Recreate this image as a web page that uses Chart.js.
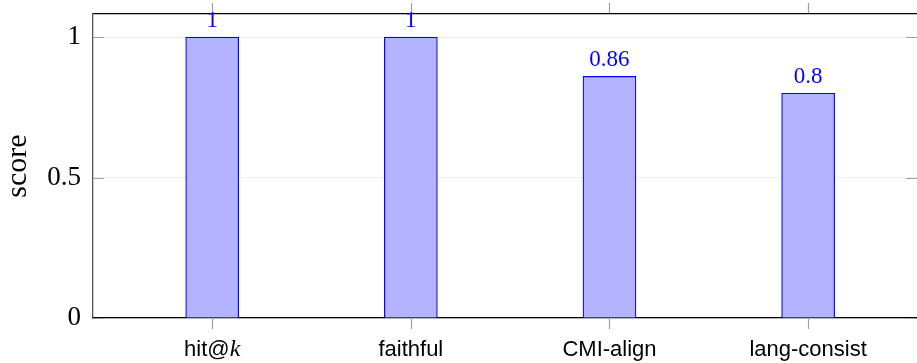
<!DOCTYPE html>
<html>
<head>
<meta charset="utf-8">
<script src="https://cdn.jsdelivr.net/npm/chart.js@4"></script>
<style>
  html, body { margin: 0; padding: 0; background: #fff; overflow: hidden; }
  #wrap { width: 917px; height: 363px; }
</style>
</head>
<body>
<div id="wrap"><canvas id="chart"></canvas></div>
<script>
const categories = ['hit@k', 'faithful', 'CMI-align', 'lang-consist'];
const scores = [1, 1, 0.86, 0.8];
const valueLabels = ['1', '1', '0.86', '0.8'];
const yTicks = [0, 0.5, 1];

const SERIF = '"Liberation Serif", "DejaVu Serif", serif';
const SANS = '"Liberation Sans", Arial, sans-serif';

// tick marks, value labels and category labels, drawn in pgfplots style
const decorations = {
    id: 'decorations',
    afterDatasetsDraw(chart) {
        const ctx = chart.ctx;
        const xs = chart.scales.x;
        const ys = chart.scales.y;
        const area = chart.chartArea;
        ctx.save();

        // tick marks
        ctx.strokeStyle = '#a0a0a0';
        ctx.lineWidth = 1.2;
        ctx.beginPath();
        categories.forEach((c, i) => {
            const px = Math.round(xs.getPixelForValue(i)) + 0.5;
            ctx.moveTo(px, area.bottom + 1);
            ctx.lineTo(px, area.bottom + 11);
            ctx.moveTo(px, area.top - 1);
            ctx.lineTo(px, area.top - 11);
        });
        yTicks.forEach(v => {
            const py = Math.round(ys.getPixelForValue(v)) + 0.5;
            ctx.moveTo(area.left, py);
            ctx.lineTo(area.left + 11, py);
            ctx.moveTo(area.right, py);
            ctx.lineTo(area.right - 11, py);
        });
        ctx.stroke();

        // value labels above bars
        ctx.fillStyle = '#0000ff';
        ctx.font = '23px ' + SERIF;
        ctx.textAlign = 'center';
        ctx.textBaseline = 'alphabetic';
        scores.forEach((v, i) => {
            ctx.fillText(valueLabels[i], xs.getPixelForValue(i), ys.getPixelForValue(v) - 10);
        });

        // category labels
        ctx.fillStyle = '#000';
        const base = area.bottom + 38;
        categories.forEach((c, i) => {
            const px = xs.getPixelForValue(i);
            if (c.endsWith('@k')) {
                const head = c.slice(0, -1);
                ctx.font = '22px ' + SANS;
                const w1 = ctx.measureText(head).width;
                ctx.font = 'italic 24px ' + SERIF;
                const w2 = ctx.measureText('k').width;
                let left = px - (w1 + w2) / 2;
                ctx.textAlign = 'left';
                ctx.font = '22px ' + SANS;
                ctx.fillText(head, left, base);
                ctx.font = 'italic 24px ' + SERIF;
                ctx.fillText('k', left + w1, base);
            } else {
                ctx.textAlign = 'center';
                ctx.font = '22px ' + SANS;
                ctx.fillText(c, px, base);
            }
        });
        ctx.restore();
    }
};

const ctx = document.getElementById('chart').getContext('2d');

new Chart(ctx, {
    type: 'bar',
    data: {
        datasets: [{
            label: 'score',
            data: scores.map((v, i) => ({ x: i, y: v })),
            backgroundColor: 'rgb(179, 179, 255)',
            borderColor: '#0000ff',
            borderWidth: 1.2,
            barThickness: 53,
        }],
    },
    options: {
        responsive: true,
        maintainAspectRatio: false,
        animation: false,
        layout: { padding: 0 },
        plugins: {
            legend: { display: false },
            tooltip: { enabled: false },
        },
        scales: {
            x: {
                type: 'linear',
                position: 'bottom',
                offset: false,
                min: -0.6,
                max: 3.548,
                grid: { display: false },
                border: { display: true, color: '#000', width: 1.3 },
                ticks: { display: false },
                afterFit(scale) { scale.height = 45; scale.paddingLeft = 0; scale.paddingRight = 0; },
            },
            xTop: {
                type: 'linear',
                position: 'top',
                offset: false,
                min: -0.6,
                max: 3.548,
                grid: { display: false },
                border: { display: true, color: '#000', width: 1.3 },
                ticks: { display: false },
                afterFit(scale) { scale.height = 14; scale.paddingLeft = 0; scale.paddingRight = 0; },
            },
            y: {
                min: 0,
                max: 1.082,
                afterBuildTicks(scale) {
                    scale.ticks = yTicks.map(v => ({ value: v }));
                },
                grid: { color: '#efefef', drawTicks: false },
                border: { display: true, color: '#555', width: 1.3 },
                ticks: {
                    color: '#000',
                    font: { family: SERIF, size: 27 },
                    padding: 12,
                    callback: v => String(v),
                },
                title: {
                    display: true,
                    text: 'score',
                    color: '#000',
                    font: { family: SERIF, size: 30 },
                    padding: { top: 0, bottom: 0 },
                },
                afterFit(scale) { scale.width = 93; scale.paddingTop = 0; scale.paddingBottom = 0; },
            },
        },
    },
    plugins: [decorations],
});
</script>
</body>
</html>
